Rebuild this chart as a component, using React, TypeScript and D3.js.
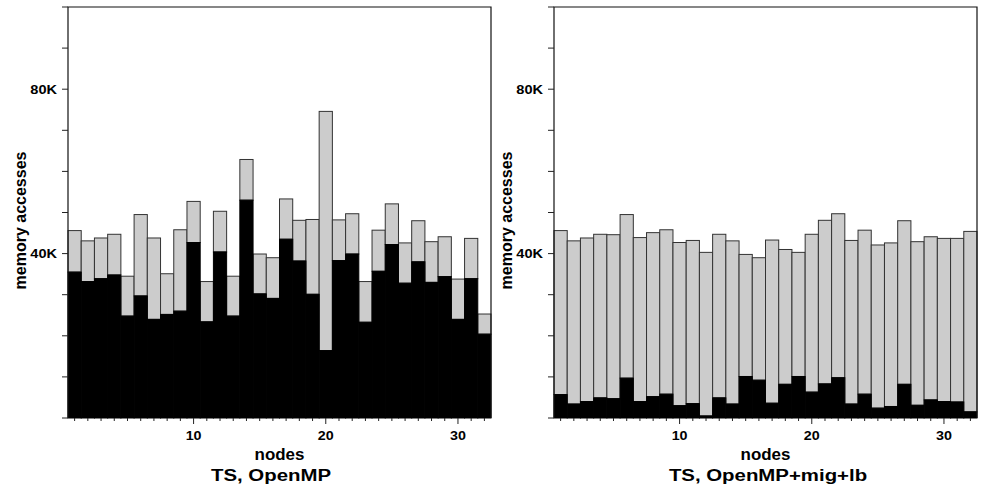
import React, { useEffect, useRef } from 'react';
import * as d3 from 'd3';

// node ids along the x axis
const nodes = [1, 2, 3, 4, 5, 6, 7, 8, 9, 10, 11, 12, 13, 14, 15, 16,
  17, 18, 19, 20, 21, 22, 23, 24, 25, 26, 27, 28, 29, 30, 31, 32];

// TS, OpenMP (values in K accesses)
const ompLocal = [35.5, 33.2, 33.9, 34.8, 24.8, 29.7, 24.0, 25.2, 26.0, 42.7, 23.4, 40.4, 24.8, 53.0, 30.2, 29.1,
  43.5, 38.2, 30.1, 16.4, 38.3, 39.9, 23.3, 35.7, 42.2, 32.8, 38.0, 33.0, 34.4, 24.0, 33.9, 20.4];
const ompTotal = [45.6, 43.1, 43.8, 44.7, 34.5, 49.5, 43.8, 35.1, 45.8, 52.7, 33.2, 50.3, 34.5, 62.9, 39.9, 39.0,
  53.3, 48.1, 48.3, 74.6, 48.2, 49.7, 33.2, 45.7, 52.1, 42.6, 48.0, 42.9, 44.1, 33.8, 43.7, 25.3];

// TS, OpenMP+mig+lb
const migLocal = [5.7, 3.4, 4.0, 4.9, 4.7, 9.7, 4.0, 5.2, 5.8, 3.0, 3.5, 0.5, 4.9, 3.4, 10.1, 9.2,
  3.6, 8.2, 10.1, 6.3, 8.3, 9.8, 3.4, 5.8, 2.4, 2.8, 8.2, 3.1, 4.4, 4.0, 3.9, 1.5];
const migTotal = [45.6, 43.1, 43.8, 44.7, 44.6, 49.5, 43.9, 45.1, 45.8, 42.7, 43.2, 40.3, 44.7, 43.1, 39.8, 39.0,
  43.3, 41.0, 40.3, 44.7, 48.1, 49.7, 43.2, 45.7, 42.1, 42.6, 48.0, 42.9, 44.1, 43.7, 43.7, 45.4];

const yTicks = [0, 10, 20, 30, 40, 50, 60, 70, 80, 90, 100];
const yLabels = { 40: '40K', 80: '80K' };
const xLabels = [10, 20, 30];

const panels = [
  { title: 'TS, OpenMP', local: ompLocal, total: ompTotal, left: 68, titleX: 271 },
  { title: 'TS, OpenMP+mig+lb', local: migLocal, total: migTotal, left: 554, titleX: 768 },
];

const FONT = '"Liberation Sans", Arial, Helvetica, sans-serif';

export default function App() {
  const ref = useRef<SVGSVGElement>(null);

  useEffect(() => {
    const svg = d3.select(ref.current);
    svg.selectAll('*').remove();

    const top = 7, bottom = 418, w = 423;

    panels.forEach(p => {
      const x = d3.scaleLinear().domain([0.5, 32.5]).range([p.left, p.left + w]);
      const y = d3.scaleLinear().domain([0, 100]).range([bottom, top]);
      const g = svg.append('g');

      const bars = nodes.map((n, i) => ({ n, local: p.local[i], total: p.total[i] }));

      // gray part (remote) from local up to total
      g.selectAll('rect.gray')
        .data(bars)
        .join('rect')
        .attr('x', d => x(d.n - 0.5))
        .attr('width', d => x(d.n + 0.5) - x(d.n - 0.5))
        .attr('y', d => y(d.total))
        .attr('height', d => y(d.local) - y(d.total))
        .attr('fill', '#cccccc')
        .attr('stroke', '#333')
        .attr('stroke-width', 1);

      // black part (local)
      g.selectAll('rect.black')
        .data(bars)
        .join('rect')
        .attr('x', d => x(d.n - 0.5))
        .attr('width', d => x(d.n + 0.5) - x(d.n - 0.5))
        .attr('y', d => y(d.local))
        .attr('height', d => bottom - y(d.local))
        .attr('fill', '#000')
        .attr('stroke', '#000')
        .attr('stroke-width', 1);

      // frame
      g.append('path')
        .attr('d', `M${p.left},${bottom}V${top}H${p.left + w}V${bottom}`)
        .attr('fill', 'none')
        .attr('stroke', '#111')
        .attr('stroke-width', 1.2);

      // y ticks
      g.selectAll('line.yt')
        .data(yTicks)
        .join('line')
        .attr('x1', p.left - 6)
        .attr('x2', p.left)
        .attr('y1', d => y(d))
        .attr('y2', d => y(d))
        .attr('stroke', '#222');

      g.selectAll('text.yl')
        .data(yTicks.filter(d => yLabels[d]))
        .join('text')
        .attr('transform', d => `translate(${p.left - 11},${y(d) + 4.5}) scale(1.12,1)`)
        .attr('text-anchor', 'end')
        .attr('font-family', FONT)
        .attr('font-weight', 'bold')
        .attr('font-size', 13)
        .text(d => yLabels[d]);

      // x ticks
      g.selectAll('line.xt')
        .data(nodes)
        .join('line')
        .attr('x1', d => x(d))
        .attr('x2', d => x(d))
        .attr('y1', bottom)
        .attr('y2', d => bottom + (xLabels.includes(d) ? 6 : 3))
        .attr('stroke', '#222');

      g.selectAll('text.xl')
        .data(xLabels)
        .join('text')
        .attr('transform', d => `translate(${x(d)},${bottom + 22}) scale(1.1,1)`)
        .attr('text-anchor', 'middle')
        .attr('font-family', FONT)
        .attr('font-weight', 'bold')
        .attr('font-size', 13)
        .text(d => d);

      g.append('text')
        .attr('transform', `translate(${p.left + w / 2},${bottom + 42}) scale(1.06,1)`)
        .attr('text-anchor', 'middle')
        .attr('font-family', FONT)
        .attr('font-weight', 'bold')
        .attr('font-size', 16)
        .text('nodes');

      g.append('text')
        .attr('transform', `translate(${p.titleX},${bottom + 63}) scale(1.2,1)`)
        .attr('text-anchor', 'middle')
        .attr('font-family', FONT)
        .attr('font-weight', 'bold')
        .attr('font-size', 17)
        .text(p.title);

      g.append('text')
        .attr('transform', `translate(${p.left - 42},${(top + bottom) / 2 + 8}) rotate(-90)`)
        .attr('text-anchor', 'middle')
        .attr('font-family', FONT)
        .attr('font-weight', 'bold')
        .attr('font-size', 16)
        .text('memory accesses');
    });
  }, []);

  return (
    <svg
      ref={ref}
      width={981}
      height={498}
      style={{ position: 'absolute', left: 0, top: 0, background: '#fff' }}
    />
  );
}
